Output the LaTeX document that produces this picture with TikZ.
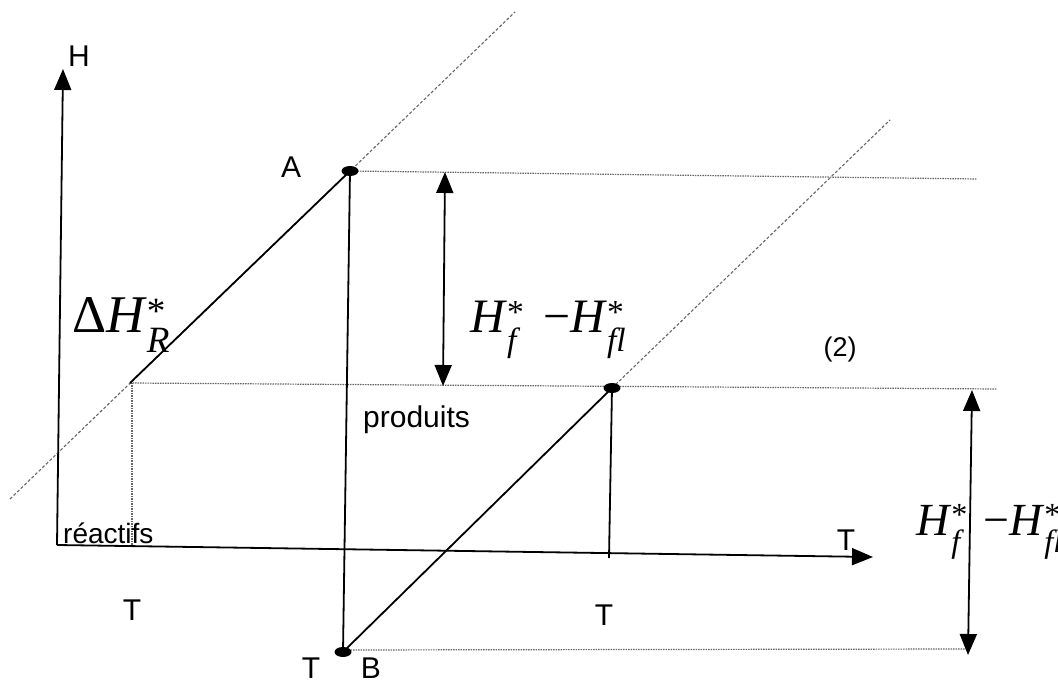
\documentclass[tikz,border=0pt]{standalone}
\usepackage{amsmath}
\usepackage{fontspec}
\setmainfont{Liberation Sans}
\newfontfamily\lserif{Liberation Serif}
\usetikzlibrary{arrows.meta,shapes.geometric}
\tikzset{
  solidline/.style={line width=1.8pt, black},
  axisline/.style={line width=1.8pt, black, -{Triangle[length=21pt,width=17pt]}},
  dblarrow/.style={line width=1.8pt, black, {Triangle[length=21pt,width=17pt]}-{Triangle[length=21pt,width=17pt]}},
  dashline/.style={line width=1.1pt, black!60, dash pattern=on 3pt off 2pt},
  dotline/.style={line width=1.2pt, black!60, dash pattern=on 1.5pt off 1pt},
  dotmark/.style={ellipse, fill=black, draw=none, minimum width=17pt, minimum height=10pt, inner sep=0pt},
  lab/.style={font=\fontsize{30}{30}\selectfont, inner sep=0pt},
  mathlab/.style={font=\fontsize{48}{48}\selectfont\lserif, inner sep=0pt},
}
\begin{document}
\begin{tikzpicture}[x=1pt,y=-1pt]
\useasboundingbox[fill=white] (0,0) rectangle (1058,684);
% key points
\coordinate (O) at (57,545);
\coordinate (Htip) at (63,69);
\coordinate (Ttip) at (873,557);
\coordinate (R) at (130,383);
\coordinate (D1a) at (10,499);
\coordinate (D1b) at (515,12);
\coordinate (D2b) at (890,120);
\coordinate (Cf) at (609,558);
\coordinate (Aend) at (977,179);
\coordinate (Rend) at (997,389);
\coordinate (Rv) at (132,545);
\coordinate (Bend) at (968,649);
\coordinate (U1) at (445,172);
\coordinate (U2) at (443,386);
\coordinate (V1) at (972,390);
\coordinate (V2) at (968,655);
% dashed diagonals
\draw[dashline] (D1a) -- (D1b);
\draw[dashline] (612,388) -- (D2b);
% dotted horizontals / vertical
\draw[dotline] (350,171) -- (Aend);
\draw[dotline] (R) -- (Rend);
\draw[dotline] (132,383) -- (Rv);
\draw[dotline] (343,650) -- (Bend);
% axes
\draw[axisline] (O) -- (Htip);
\draw[axisline] (O) -- (Ttip);
% points
\node[dotmark] (A) at (350,171) {};
\node[dotmark] (B) at (343,652) {};
\node[dotmark] (C) at (612,388) {};
% solid lines
\draw[solidline] (R) -- (A.center);
\draw[solidline] (A.center) -- (B.center);
\draw[solidline] (B.center) -- (C.center);
\draw[solidline] (C.center) -- (Cf);
% double arrows
\draw[dblarrow] (U1) -- (U2);
\draw[dblarrow] (V1) -- (V2);
% sans labels
\node[lab, anchor=base west] (lH) at (68,67) {H};
\node[lab, anchor=base west] (lA) at (281,178) {A};
\node[lab, anchor=base west] (lprod) at (363,428) {produits};
\node[lab, anchor=base west, font=\fontsize{28}{28}\selectfont] (lreac) at (63,543) {réactifs};
\node[lab] (lT1) at (132,610) {T};
\node[lab] (lT2) at (604,615) {T};
\node[lab, anchor=base] (lT3) at (846,550) {T};
\node[lab] (lT4) at (311,668) {T};
\node[lab] (lB) at (371,668) {B};
\node[lab, font=\fontsize{27}{27}\selectfont] (l2) at (840,350) {(2)};
% math labels
\node[mathlab, anchor=base west, font=\fontsize{53}{53}\selectfont\lserif] (ldH) at (72,333)
  {Δ\textit{H}$^{\text{*}}_{\text{\itshape R}}$};
\node[mathlab, anchor=base west] (lHf1) at (470,333) {\textit{H}$^{\text{*}}_{\text{\itshape f}}$};
\node[mathlab, anchor=base west] (lHfl1) at (543,333) {−\textit{H}$^{\text{*}}_{\text{\itshape fl}}$};
\node[mathlab, anchor=base west, font=\fontsize{46}{46}\selectfont\lserif] (lHf2) at (916,535) {\textit{H}$^{\text{*}}_{\text{\itshape f}}$};
\node[mathlab, anchor=base west, font=\fontsize{46}{46}\selectfont\lserif] (lHfl2) at (983,535) {−\textit{H}$^{\text{*}}_{\text{\itshape fl}}$};
\end{tikzpicture}
\end{document}
